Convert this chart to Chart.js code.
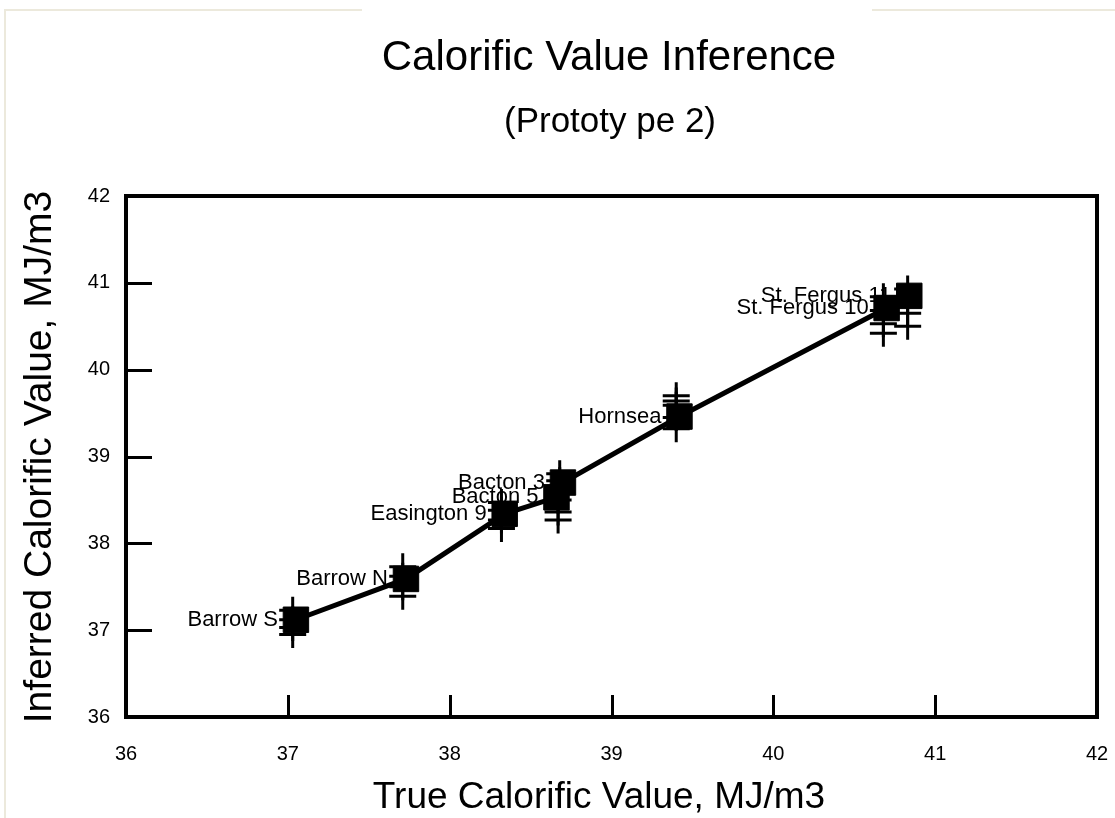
<!DOCTYPE html>
<html>
<head>
<meta charset="utf-8">
<script src="https://cdn.jsdelivr.net/npm/chart.js@4"></script>
<style>
  html, body { margin: 0; padding: 0; background: #fff; }
  #wrap { position: relative; width: 1115px; height: 818px; }
  #edge { position: absolute; left: 4px; top: 9px; right: 0; bottom: 0; border-left: 2px solid #ece9dc; border-top: 2px solid #ece9dc; }
  #gap { position: absolute; left: 362px; top: 8px; width: 510px; height: 5px; background: #fff; }
  canvas { position: absolute; left: 0; top: 0; }
</style>
</head>
<body>
<div id="wrap">
  <div id="edge"></div>
  <div id="gap"></div>
  <canvas id="cvChart" width="1115" height="818"></canvas>
</div>
<script>
// sites, in order of true calorific value
const siteNames = ['Barrow S', 'Barrow N', 'Easington 9', 'Bacton 5', 'Bacton 3', 'Hornsea', 'St. Fergus 10', 'St. Fergus 11'];
const trueCV = [37.05, 37.73, 38.34, 38.66, 38.70, 39.42, 40.70, 40.84];
const inferredCV = [37.12, 37.59, 38.34, 38.53, 38.70, 39.46, 40.71, 40.85];

// individual inferred readings for each site (the + marks)
const readingX = [37.03, 37.71, 38.32, 38.67, 38.68, 39.40, 40.68, 40.83];
const readingsY = [
  [37.23, 37.12, 37.03, 36.95],
  [37.73, 37.62, 37.50, 37.39],
  [38.47, 38.38, 38.27, 38.17],
  [38.50, 38.36, 38.27],
  [38.80, 38.72, 38.64],
  [39.70, 39.64, 39.59, 39.45, 39.32],
  [40.84, 40.68, 40.53, 40.42],
  [40.93, 40.80, 40.65, 40.50]
];

const xTicks = [36, 37, 38, 39, 40, 41, 42];
const yTicks = [36, 37, 38, 39, 40, 41, 42];

const chartTitle = 'Calorific Value Inference';
const chartSubtitle = '(Prototy pe 2)';
const xTitle = 'True Calorific Value, MJ/m3';
const yTitle = 'Inferred Calorific Value, MJ/m3';

const FONT = '"Liberation Sans", Arial, sans-serif';

const readingPoints = [];
readingsY.forEach((list, i) => {
  list.forEach(v => readingPoints.push({ x: readingX[i], y: v }));
});
const meanPoints = trueCV.map((v, i) => ({ x: v, y: inferredCV[i] }));

// frame, inward ticks and site labels (labels sit under the squares)
const framePlugin = {
  id: 'framePlugin',
  beforeDatasetsDraw(chart) {
    const { ctx, chartArea: a, scales } = chart;
    const x = scales.x, y = scales.y;
    ctx.save();
    ctx.strokeStyle = '#000';
    ctx.lineWidth = 4;
    ctx.strokeRect(a.left, a.top, a.right - a.left, a.bottom - a.top);

    ctx.lineWidth = 3;
    ctx.beginPath();
    xTicks.slice(1, -1).forEach(v => {
      const px = Math.round(x.getPixelForValue(v)) + 0.5;
      ctx.moveTo(px, a.bottom);
      ctx.lineTo(px, a.bottom - 22);
    });
    yTicks.slice(1, -1).forEach(v => {
      const py = Math.round(y.getPixelForValue(v)) + 0.5;
      ctx.moveTo(a.left, py);
      ctx.lineTo(a.left + 26, py);
    });
    ctx.stroke();

    ctx.fillStyle = '#000';
    ctx.font = '22px ' + FONT;
    ctx.textAlign = 'right';
    ctx.textBaseline = 'middle';
    siteNames.forEach((name, i) => {
      const px = x.getPixelForValue(trueCV[i]);
      const py = y.getPixelForValue(inferredCV[i]);
      ctx.fillText(name, px - 18, py);
    });
    ctx.restore();
  },
  afterDraw(chart) {
    const ctx = chart.ctx;
    ctx.save();
    ctx.fillStyle = '#000';
    ctx.textAlign = 'center';
    ctx.textBaseline = 'middle';
    ctx.font = '42px ' + FONT;
    ctx.fillText(chartTitle, 609, 58);
    ctx.font = '35px ' + FONT;
    ctx.fillText(chartSubtitle, 610, 122);
    ctx.font = '37px ' + FONT;
    ctx.fillText(xTitle, 599, 798);
    ctx.translate(40, 457);
    ctx.rotate(-Math.PI / 2);
    ctx.font = '39px ' + FONT;
    ctx.fillText(yTitle, 0, 0);
    ctx.restore();
  }
};

new Chart(document.getElementById('cvChart'), {
  type: 'scatter',
  data: {
    datasets: [
      {
        label: 'Mean',
        data: meanPoints,
        showLine: true,
        borderColor: '#000',
        backgroundColor: '#000',
        borderWidth: 5,
        pointStyle: 'rect',
        pointRadius: 18,
        pointBorderWidth: 1,
        pointBorderColor: '#000',
        pointBackgroundColor: '#000'
      },
      {
        label: 'Readings',
        data: readingPoints,
        showLine: false,
        pointStyle: 'cross',
        pointRadius: 13.5,
        pointBorderWidth: 3,
        borderColor: '#000',
        pointBorderColor: '#000'
      }
    ]
  },
  options: {
    responsive: false,
    animation: false,
    layout: { autoPadding: false, padding: { top: 196, right: 18, left: 0, bottom: 0 } },
    plugins: {
      legend: { display: false },
      tooltip: { enabled: false },
      title: { display: false }
    },
    scales: {
      x: {
        type: 'linear',
        min: 36,
        max: 42,
        // invisible tick marks only push the labels down; the real ones are drawn inward by the plugin
        grid: { display: true, drawOnChartArea: false, drawTicks: true, tickLength: 22, color: 'rgba(0,0,0,0)' },
        border: { display: false },
        afterBuildTicks: s => { s.ticks = xTicks.map(v => ({ value: v })); },
        afterFit: s => { s.height = 101; },
        ticks: { color: '#000', font: { family: FONT, size: 20 }, padding: 3, maxRotation: 0 }
      },
      y: {
        type: 'linear',
        min: 36,
        max: 42,
        grid: { display: false, drawTicks: false },
        border: { display: false },
        afterBuildTicks: s => { s.ticks = yTicks.map(v => ({ value: v })); },
        afterFit: s => { s.width = 126; },
        ticks: { color: '#000', font: { family: FONT, size: 20 }, padding: 16 }
      }
    }
  },
  plugins: [framePlugin]
});
</script>
</body>
</html>
